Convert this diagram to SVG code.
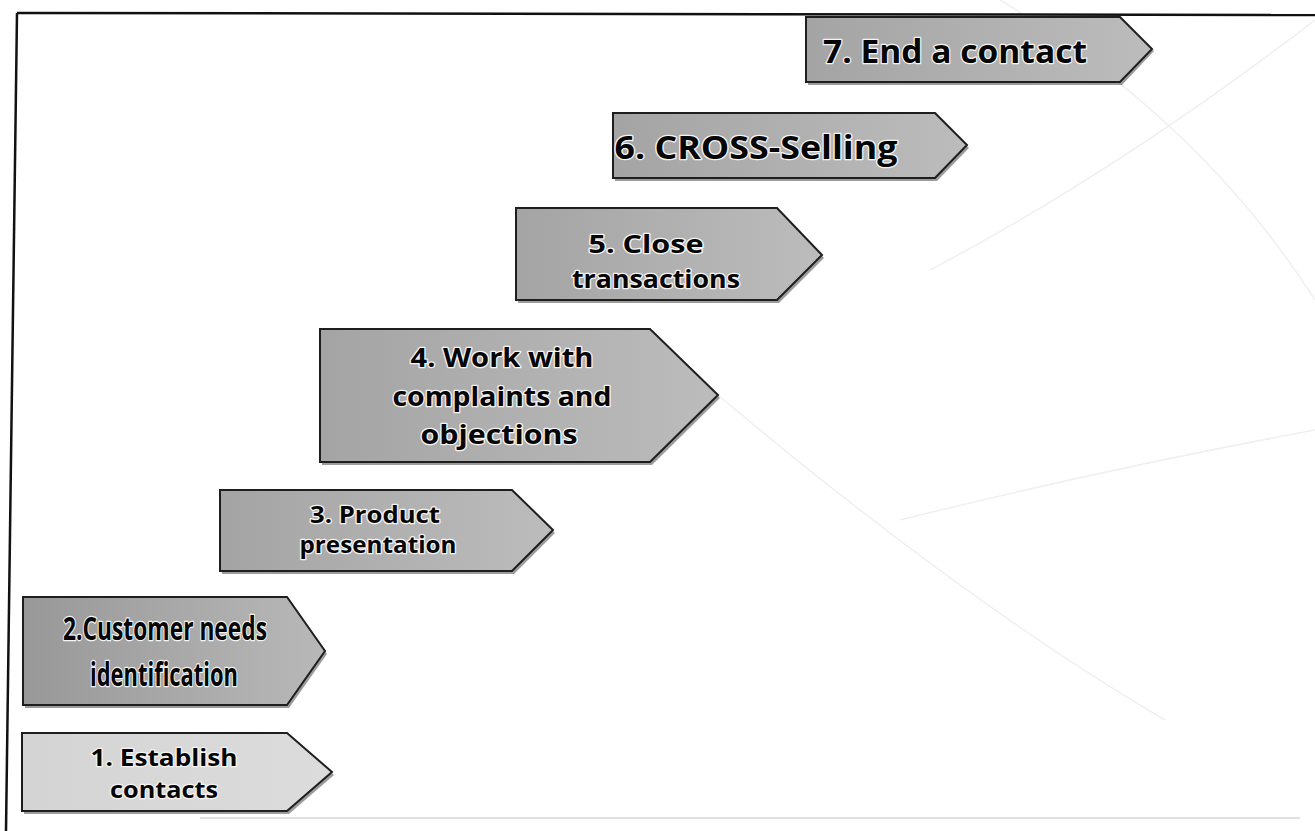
<svg xmlns="http://www.w3.org/2000/svg" width="1315" height="831" viewBox="0 0 1315 831">
<defs>
<linearGradient id="g" x1="0" y1="0" x2="1" y2="0">
<stop offset="0" stop-color="#a4a4a4"/>
<stop offset="1" stop-color="#bcbcbc"/>
</linearGradient>
<linearGradient id="gd" x1="0" y1="0" x2="1" y2="0">
<stop offset="0" stop-color="#989898"/>
<stop offset="1" stop-color="#b8b8b8"/>
</linearGradient>
<linearGradient id="gl" x1="0" y1="0" x2="1" y2="0">
<stop offset="0" stop-color="#d4d4d4"/>
<stop offset="1" stop-color="#dcdcdc"/>
</linearGradient>
</defs>
<style>
.arr{stroke:#1e1e1e;stroke-width:2;stroke-linejoin:miter}
.sh{fill:#4a4a4a;opacity:0.55}
.t{font-family:"Open Sans","Noto Sans",sans-serif;font-weight:bold;fill:#050505;stroke:#f4f4f4;stroke-width:2.5;paint-order:stroke;stroke-linejoin:round;text-anchor:middle}
.bg{fill:none;stroke:#f0f0f0;stroke-width:1.5}
</style>
<rect width="1315" height="831" fill="#ffffff"/>
<g id="background">
<path class="bg" d="M930 270 Q1120 170 1315 20"/>
<path class="bg" d="M700 380 Q960 600 1165 720"/>
<path class="bg" d="M1000 0 Q1200 120 1315 300"/>
<path class="bg" d="M900 520 Q1100 470 1315 430"/>
<path d="M200 818 L1300 818" stroke="#e0e0e0" stroke-width="2"/>
</g>
<g id="frame">
<path d="M17 13 L1315 15" stroke="#111" stroke-width="2.5" fill="none"/>
<path d="M17 13 L6 831" stroke="#111" stroke-width="2.5" fill="none"/>
</g>
<g id="step7">
<polygon class="sh" points="808,20 1122,20 1154,51 1122,85 808,85"/>
<polygon class="arr" fill="url(#g)" points="806,17 1120,17 1152,49 1120,82 806,82"/>
<text class="t" x="955" y="63" font-size="33" textLength="264" lengthAdjust="spacingAndGlyphs">7. End a contact</text>
</g>
<g id="step6">
<polygon class="sh" points="615,116 937,116 969,148 937,181 615,181"/>
<polygon class="arr" fill="url(#g)" points="613,113 935,113 967,145 935,178 613,178"/>
<text class="t" x="756" y="159" font-size="32" textLength="283" lengthAdjust="spacingAndGlyphs">6. CROSS-Selling</text>
</g>
<g id="step5">
<polygon class="sh" points="518,211 779,211 824,258 779,303 518,303"/>
<polygon class="arr" fill="url(#g)" points="516,208 777,208 822,255 777,300 516,300"/>
<text class="t" x="646" y="253" font-size="25" textLength="115" lengthAdjust="spacingAndGlyphs">5. Close</text>
<text class="t" x="656" y="288" font-size="25" textLength="168" lengthAdjust="spacingAndGlyphs">transactions</text>
</g>
<g id="step4">
<polygon class="sh" points="322,332 652,332 720,398 652,465 322,465"/>
<polygon class="arr" fill="url(#g)" points="320,329 650,329 718,395 650,462 320,462"/>
<text class="t" x="502" y="367" font-size="27" textLength="183" lengthAdjust="spacingAndGlyphs">4. Work with</text>
<text class="t" x="502" y="406" font-size="27" textLength="219" lengthAdjust="spacingAndGlyphs">complaints and</text>
<text class="t" x="499" y="444" font-size="27" textLength="157" lengthAdjust="spacingAndGlyphs">objections</text>
</g>
<g id="step3">
<polygon class="sh" points="222,493 514,493 555,533 514,574 222,574"/>
<polygon class="arr" fill="url(#g)" points="220,490 512,490 553,530 512,571 220,571"/>
<text class="t" x="375" y="523" font-size="23" textLength="130" lengthAdjust="spacingAndGlyphs">3. Product</text>
<text class="t" x="378" y="553" font-size="23" textLength="157" lengthAdjust="spacingAndGlyphs">presentation</text>
</g>
<g id="step2">
<polygon class="sh" points="25,600 289,600 327,654 289,708 25,708"/>
<polygon class="arr" fill="url(#gd)" points="23,597 287,597 325,651 287,705 23,705"/>
<text class="t" x="165" y="640" font-size="32" textLength="204" lengthAdjust="spacingAndGlyphs">2.Customer needs</text>
<text class="t" x="164" y="686" font-size="32" textLength="148" lengthAdjust="spacingAndGlyphs">identification</text>
</g>
<g id="step1">
<polygon class="sh" points="24,736 289,736 334,775 289,814 24,814"/>
<polygon class="arr" fill="url(#gl)" points="22,733 287,733 332,772 287,811 22,811"/>
<text class="t" x="164" y="766" font-size="24" textLength="147" lengthAdjust="spacingAndGlyphs">1. Establish</text>
<text class="t" x="164" y="798" font-size="24" textLength="108" lengthAdjust="spacingAndGlyphs">contacts</text>
</g>
</svg>
